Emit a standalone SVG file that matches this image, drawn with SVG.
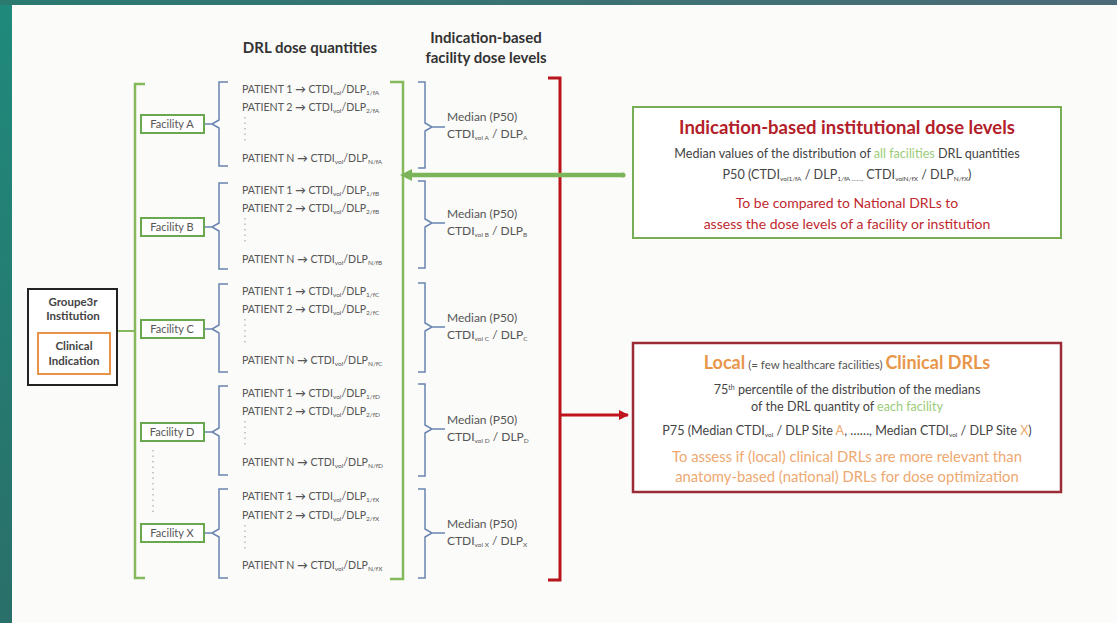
<svg xmlns="http://www.w3.org/2000/svg" width="1117" height="623" viewBox="0 0 1117 623">
<defs>
<linearGradient id="lg" x1="0" y1="0" x2="0" y2="1"><stop offset="0" stop-color="#1f8a7c"/><stop offset="1" stop-color="#2a6f69"/></linearGradient>
<linearGradient id="tg" x1="0" y1="0" x2="1" y2="0"><stop offset="0" stop-color="#2a7a70"/><stop offset="1" stop-color="#4c6b78"/></linearGradient>
<marker id="ag" markerUnits="userSpaceOnUse" markerWidth="14" markerHeight="14" refX="2" refY="7" orient="auto-start-reverse"><path d="M0,1 L12,7 L0,13 Z" fill="#7cb45a"/></marker>
<marker id="ar" markerUnits="userSpaceOnUse" markerWidth="12" markerHeight="12" refX="9" refY="6" orient="auto"><path d="M0,1 L10,6 L0,11 Z" fill="#c0141c"/></marker>
</defs>
<style>
text{font-family:Lato,"Liberation Sans",sans-serif}
.hd{font-size:15px;font-weight:bold;fill:#333;text-anchor:middle}
.pt{font-size:10.6px;fill:#555}
.sb{font-size:6.5px}
.md{font-size:12px;fill:#555}
.fac{fill:#fff;stroke:#6aa84f;stroke-width:2}
.ft{font-size:11px;fill:#555;text-anchor:middle}
.gt{font-size:11.5px;font-weight:bold;fill:#444;text-anchor:middle}
.br{fill:none;stroke:#86b95a;stroke-width:2.5}
.bl{fill:none;stroke:#6a85b0;stroke-width:1.5}
.rd{fill:none;stroke:#b8141c;stroke-width:3}
.dots{stroke:#aaa;stroke-width:1.2;stroke-dasharray:1.5 4}
.c{text-anchor:middle}
.bx{font-size:12.6px;fill:#444}
</style>
<rect width="1117" height="623" fill="#fbfbfa"/>
<rect x="0" y="0" width="12" height="623" fill="url(#lg)"/>
<rect x="0" y="0" width="1117" height="5" fill="url(#tg)"/>

<text class="hd" x="310" y="53">DRL dose quantities</text>
<text class="hd" x="486" y="43">Indication-based</text>
<text class="hd" x="486" y="63">facility dose levels</text>

<g id="connectors">
<path class="br" d="M145,84 H135 V578 H145"/>
<line x1="118" y1="331" x2="135" y2="331" stroke="#86b95a" stroke-width="2"/>
<path class="br" d="M390,82 H403 V579 H390"/>
<path class="rd" d="M548,78 H560 V580 H548"/>
<line x1="623" y1="175" x2="410" y2="175" stroke="#7cb45a" stroke-width="4.5" marker-end="url(#ag)"/>
<circle cx="623" cy="175" r="2.5" fill="#7cb45a"/>
<line x1="561" y1="415" x2="628" y2="415" stroke="#c0141c" stroke-width="3" marker-end="url(#ar)"/>
<path class="bl" d="M228,82 H219 V120 L212,124 L219,128 V166 H228 M204,124 H212"/>
<path class="bl" d="M228,183 H219 V223 L212,227 L219,231 V269 H228 M204,227 H212"/>
<path class="bl" d="M228,284 H219 V325 L212,329 L219,333 V372 H228 M204,329 H212"/>
<path class="bl" d="M228,386 H219 V428 L212,432 L219,436 V475 H228 M204,432 H212"/>
<path class="bl" d="M228,489 H219 V529 L212,533 L219,537 V578 H228 M204,533 H212"/>
<path class="bl" d="M418,82 H425 V123 L432,127 L425,131 V168 H418 M432,127 H445"/>
<path class="bl" d="M418,181 H425 V219 L432,223 L425,227 V268 H418 M432,223 H445"/>
<path class="bl" d="M418,283 H425 V323 L432,327 L425,331 V372 H418 M432,327 H445"/>
<path class="bl" d="M418,384 H425 V425 L432,429 L425,433 V476 H418 M432,429 H445"/>
<path class="bl" d="M418,489 H425 V529 L432,533 L425,537 V578 H418 M432,533 H445"/>
<line class="dots" x1="153" y1="450" x2="153" y2="514"/>
</g>

<g id="groupe3r">
<rect x="28" y="289" width="89" height="96" fill="#fff" stroke="#222" stroke-width="2"/>
<text class="gt" x="73" y="306">Groupe3r</text>
<text class="gt" x="73" y="320">Institution</text>
<rect x="38" y="333" width="72" height="41" fill="#fff" stroke="#e8924a" stroke-width="2"/>
<text class="gt" x="74" y="350">Clinical</text>
<text class="gt" x="74" y="365">Indication</text>
</g>

<g id="facility-a"><rect class="fac" x="141" y="115" width="63" height="18"/><text class="ft" x="172" y="128">Facility A</text></g>
<g id="facility-b"><rect class="fac" x="141" y="218" width="63" height="18"/><text class="ft" x="172" y="231">Facility B</text></g>
<g id="facility-c"><rect class="fac" x="141" y="320" width="63" height="18"/><text class="ft" x="172" y="333">Facility C</text></g>
<g id="facility-d"><rect class="fac" x="141" y="423" width="63" height="18"/><text class="ft" x="172" y="436">Facility D</text></g>
<g id="facility-x"><rect class="fac" x="141" y="524" width="63" height="18"/><text class="ft" x="172" y="537">Facility X</text></g>

<g id="patients-a">
<text class="pt" x="242" y="93">PATIENT 1 <tspan font-weight="bold">→</tspan> CTDI<tspan class="sb" dy="2">vol</tspan><tspan dy="-2">/DLP</tspan><tspan class="sb" dy="2">1/fA</tspan></text>
<text class="pt" x="242" y="111">PATIENT 2 <tspan font-weight="bold">→</tspan> CTDI<tspan class="sb" dy="2">vol</tspan><tspan dy="-2">/DLP</tspan><tspan class="sb" dy="2">2/fA</tspan></text>
<line class="dots" x1="245" y1="117" x2="245" y2="142"/>
<text class="pt" x="242" y="162">PATIENT N <tspan font-weight="bold">→</tspan> CTDI<tspan class="sb" dy="2">vol</tspan><tspan dy="-2">/DLP</tspan><tspan class="sb" dy="2">N/fA</tspan></text>
</g>
<g id="patients-b">
<text class="pt" x="242" y="194">PATIENT 1 <tspan font-weight="bold">→</tspan> CTDI<tspan class="sb" dy="2">vol</tspan><tspan dy="-2">/DLP</tspan><tspan class="sb" dy="2">1/fB</tspan></text>
<text class="pt" x="242" y="212">PATIENT 2 <tspan font-weight="bold">→</tspan> CTDI<tspan class="sb" dy="2">vol</tspan><tspan dy="-2">/DLP</tspan><tspan class="sb" dy="2">2/fB</tspan></text>
<line class="dots" x1="245" y1="218" x2="245" y2="243"/>
<text class="pt" x="242" y="263">PATIENT N <tspan font-weight="bold">→</tspan> CTDI<tspan class="sb" dy="2">vol</tspan><tspan dy="-2">/DLP</tspan><tspan class="sb" dy="2">N/fB</tspan></text>
</g>
<g id="patients-c">
<text class="pt" x="242" y="295">PATIENT 1 <tspan font-weight="bold">→</tspan> CTDI<tspan class="sb" dy="2">vol</tspan><tspan dy="-2">/DLP</tspan><tspan class="sb" dy="2">1/fC</tspan></text>
<text class="pt" x="242" y="313">PATIENT 2 <tspan font-weight="bold">→</tspan> CTDI<tspan class="sb" dy="2">vol</tspan><tspan dy="-2">/DLP</tspan><tspan class="sb" dy="2">2/fC</tspan></text>
<line class="dots" x1="245" y1="319" x2="245" y2="344"/>
<text class="pt" x="242" y="364">PATIENT N <tspan font-weight="bold">→</tspan> CTDI<tspan class="sb" dy="2">vol</tspan><tspan dy="-2">/DLP</tspan><tspan class="sb" dy="2">N/fC</tspan></text>
</g>
<g id="patients-d">
<text class="pt" x="242" y="397">PATIENT 1 <tspan font-weight="bold">→</tspan> CTDI<tspan class="sb" dy="2">vol</tspan><tspan dy="-2">/DLP</tspan><tspan class="sb" dy="2">1/fD</tspan></text>
<text class="pt" x="242" y="415">PATIENT 2 <tspan font-weight="bold">→</tspan> CTDI<tspan class="sb" dy="2">vol</tspan><tspan dy="-2">/DLP</tspan><tspan class="sb" dy="2">2/fD</tspan></text>
<line class="dots" x1="245" y1="421" x2="245" y2="446"/>
<text class="pt" x="242" y="466">PATIENT N <tspan font-weight="bold">→</tspan> CTDI<tspan class="sb" dy="2">vol</tspan><tspan dy="-2">/DLP</tspan><tspan class="sb" dy="2">N/fD</tspan></text>
</g>
<g id="patients-x">
<text class="pt" x="242" y="500">PATIENT 1 <tspan font-weight="bold">→</tspan> CTDI<tspan class="sb" dy="2">vol</tspan><tspan dy="-2">/DLP</tspan><tspan class="sb" dy="2">1/fX</tspan></text>
<text class="pt" x="242" y="519">PATIENT 2 <tspan font-weight="bold">→</tspan> CTDI<tspan class="sb" dy="2">vol</tspan><tspan dy="-2">/DLP</tspan><tspan class="sb" dy="2">2/fX</tspan></text>
<line class="dots" x1="245" y1="525" x2="245" y2="550"/>
<text class="pt" x="242" y="569">PATIENT N <tspan font-weight="bold">→</tspan> CTDI<tspan class="sb" dy="2">vol</tspan><tspan dy="-2">/DLP</tspan><tspan class="sb" dy="2">N/fX</tspan></text>
</g>

<g id="median-a"><text class="md" x="447" y="121">Median (P50)</text><text class="md" x="447" y="138">CTDI<tspan class="sb" dy="2">vol A</tspan><tspan dy="-2"> / DLP</tspan><tspan class="sb" dy="2">A</tspan></text></g>
<g id="median-b"><text class="md" x="447" y="218">Median (P50)</text><text class="md" x="447" y="235">CTDI<tspan class="sb" dy="2">vol B</tspan><tspan dy="-2"> / DLP</tspan><tspan class="sb" dy="2">B</tspan></text></g>
<g id="median-c"><text class="md" x="447" y="322">Median (P50)</text><text class="md" x="447" y="339">CTDI<tspan class="sb" dy="2">vol C</tspan><tspan dy="-2"> / DLP</tspan><tspan class="sb" dy="2">C</tspan></text></g>
<g id="median-d"><text class="md" x="447" y="424">Median (P50)</text><text class="md" x="447" y="441">CTDI<tspan class="sb" dy="2">vol D</tspan><tspan dy="-2"> / DLP</tspan><tspan class="sb" dy="2">D</tspan></text></g>
<g id="median-x"><text class="md" x="447" y="528">Median (P50)</text><text class="md" x="447" y="545">CTDI<tspan class="sb" dy="2">vol X</tspan><tspan dy="-2"> / DLP</tspan><tspan class="sb" dy="2">X</tspan></text></g>

<g id="institutional-box">
<rect x="633" y="107" width="428" height="131" fill="#fff" stroke="#77ad55" stroke-width="2"/>
<text class="c" x="847" y="134" font-size="18.5" font-weight="bold" fill="#b3202a">Indication-based institutional dose levels</text>
<text class="c bx" x="847" y="158">Median values of the distribution of <tspan fill="#9ccc7a">all facilities</tspan> DRL quantities</text>
<text class="c bx" x="847" y="179" font-size="12">P50 (CTDI<tspan class="sb" dy="2">vol1/fA</tspan><tspan dy="-2"> / DLP</tspan><tspan class="sb" dy="2">1/fA ……,</tspan><tspan dy="-2"> CTDI</tspan><tspan class="sb" dy="2">volN/fX</tspan><tspan dy="-2"> / DLP</tspan><tspan class="sb" dy="2">N/fX</tspan><tspan dy="-2">)</tspan></text>
<text class="c" x="847" y="208" font-size="14" fill="#c0282e">To be compared to National DRLs to</text>
<text class="c" x="847" y="229" font-size="14" fill="#c0282e">assess the dose levels of a facility or institution</text>
</g>

<g id="local-box">
<rect x="633" y="343" width="428" height="149" fill="#fff" stroke="#9b2c36" stroke-width="2.5"/>
<text class="c" x="847" y="369" fill="#e8964a"><tspan font-size="18" font-weight="bold">Local</tspan><tspan font-size="11.5" fill="#555"> (= few healthcare facilities) </tspan><tspan font-size="18" font-weight="bold">Clinical DRLs</tspan></text>
<text class="c bx" x="847" y="394">75<tspan font-size="7" dy="-4">th</tspan><tspan dy="4"> percentile of the distribution of the medians</tspan></text>
<text class="c bx" x="847" y="411">of the DRL quantity of <tspan fill="#9ccc7a">each facility</tspan></text>
<text class="c bx" x="847" y="435" font-size="12.2">P75 (Median CTDI<tspan class="sb" dy="2">vol</tspan><tspan dy="-2"> / DLP Site </tspan><tspan fill="#eeaa70">A</tspan>, ……, Median CTDI<tspan class="sb" dy="2">vol</tspan><tspan dy="-2"> / DLP Site </tspan><tspan fill="#eeaa70">X</tspan>)</text>
<text class="c" x="847" y="462" font-size="14.8" fill="#eea870">To assess if (local) clinical DRLs are more relevant than</text>
<text class="c" x="847" y="482" font-size="14.8" fill="#eea870">anatomy-based (national) DRLs for dose optimization</text>
</g>
</svg>
